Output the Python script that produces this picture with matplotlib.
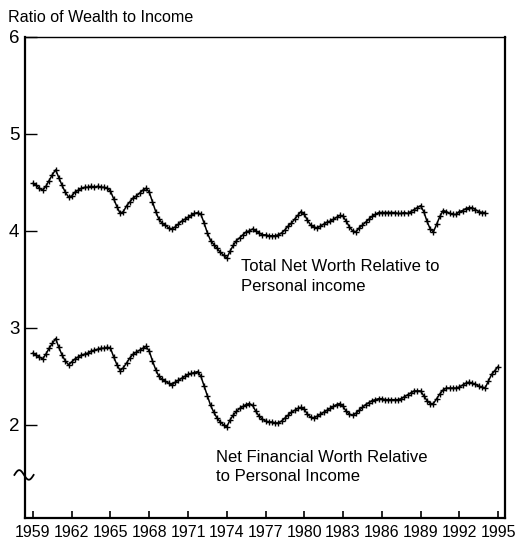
import numpy as np
import matplotlib
matplotlib.use("Agg")
from matplotlib import pyplot as plt

plt.rcParams['font.family'] = ['Liberation Sans', 'DejaVu Sans']

# quarterly ratios, first quarter 1959
total_worth = [
    4.49, 4.47, 4.44, 4.42,  # 1959
    4.46, 4.52, 4.58, 4.63,  # 1960
    4.55, 4.47, 4.40, 4.35,  # 1961
    4.36, 4.40, 4.42, 4.44,  # 1962
    4.45, 4.45, 4.46, 4.45,  # 1963
    4.46, 4.45, 4.45, 4.44,  # 1964
    4.41, 4.33, 4.25, 4.18,  # 1965
    4.20, 4.26, 4.30, 4.34,  # 1966
    4.36, 4.39, 4.42, 4.44,  # 1967
    4.40, 4.30, 4.20, 4.12,  # 1968
    4.08, 4.06, 4.03, 4.02,  # 1969
    4.04, 4.07, 4.10, 4.12,  # 1970
    4.14, 4.16, 4.18, 4.19,  # 1971
    4.17, 4.08, 3.98, 3.90,  # 1972
    3.86, 3.82, 3.78, 3.75,  # 1973
    3.72, 3.79, 3.85, 3.90,  # 1974
    3.93, 3.96, 3.99, 4.00,  # 1975
    4.02, 4.00, 3.98, 3.96,  # 1976
    3.96, 3.95, 3.95, 3.95,  # 1977
    3.96, 3.98, 4.01, 4.05,  # 1978
    4.08, 4.12, 4.16, 4.20,  # 1979
    4.17, 4.11, 4.06, 4.04,  # 1980
    4.03, 4.05, 4.07, 4.09,  # 1981
    4.10, 4.12, 4.14, 4.16,  # 1982
    4.15, 4.10, 4.04, 4.00,  # 1983
    3.99, 4.03, 4.06, 4.09,  # 1984
    4.12, 4.15, 4.17, 4.19,  # 1985
    4.19, 4.19, 4.19, 4.19,  # 1986
    4.19, 4.18, 4.18, 4.19,  # 1987
    4.18, 4.20, 4.22, 4.24,  # 1988
    4.26, 4.20, 4.10, 4.02,  # 1989
    3.99, 4.07, 4.15, 4.21,  # 1990
    4.20, 4.18, 4.17, 4.17,  # 1991
    4.20, 4.21, 4.23, 4.24,  # 1992
    4.24, 4.22, 4.20, 4.19,  # 1993
    4.19,                    # 1994
]

financial_worth = [
    2.74, 2.72, 2.70, 2.68,  # 1959
    2.73, 2.79, 2.84, 2.89,  # 1960
    2.80, 2.72, 2.66, 2.62,  # 1961
    2.65, 2.68, 2.70, 2.72,  # 1962
    2.73, 2.74, 2.76, 2.77,  # 1963
    2.78, 2.79, 2.79, 2.80,  # 1964
    2.79, 2.70, 2.62, 2.56,  # 1965
    2.59, 2.64, 2.69, 2.73,  # 1966
    2.75, 2.77, 2.79, 2.81,  # 1967
    2.76, 2.66, 2.57, 2.50,  # 1968
    2.47, 2.45, 2.43, 2.41,  # 1969
    2.44, 2.46, 2.48, 2.50,  # 1970
    2.52, 2.53, 2.54, 2.55,  # 1971
    2.50, 2.40, 2.30, 2.20,  # 1972
    2.13, 2.07, 2.03, 2.00,  # 1973
    1.98, 2.05, 2.10, 2.14,  # 1974
    2.17, 2.19, 2.21, 2.22,  # 1975
    2.20, 2.14, 2.09, 2.06,  # 1976
    2.04, 2.03, 2.03, 2.02,  # 1977
    2.02, 2.04, 2.07, 2.10,  # 1978
    2.13, 2.15, 2.17, 2.18,  # 1979
    2.16, 2.11, 2.08, 2.07,  # 1980
    2.09, 2.11, 2.13, 2.15,  # 1981
    2.17, 2.19, 2.21, 2.22,  # 1982
    2.19, 2.14, 2.11, 2.10,  # 1983
    2.12, 2.15, 2.18, 2.21,  # 1984
    2.23, 2.25, 2.26, 2.27,  # 1985
    2.27, 2.26, 2.26, 2.26,  # 1986
    2.26, 2.26, 2.27, 2.29,  # 1987
    2.31, 2.33, 2.35, 2.35,  # 1988
    2.35, 2.30, 2.25, 2.22,  # 1989
    2.22, 2.27, 2.32, 2.36,  # 1990
    2.38, 2.38, 2.38, 2.38,  # 1991
    2.39, 2.41, 2.43, 2.44,  # 1992
    2.43, 2.42, 2.40, 2.39,  # 1993
    2.38, 2.45, 2.52, 2.56,  # 1994
    2.60,                    # 1995
]

start_year = 1959
year_ticks = list(range(1959, 1996, 3))
ratio_ticks = [2, 3, 4, 5, 6]

total_label = "Total Net Worth Relative to\nPersonal income"
financial_label = "Net Financial Worth Relative\nto Personal Income"

def quarters(vals):
    return start_year + np.arange(len(vals)) / 4.0

fig = plt.figure(figsize=(5.16, 5.39), dpi=100)
ax = fig.add_axes([0.0484, 0.039, 0.9303, 0.8924])

for vals in (total_worth, financial_worth):
    ax.plot(quarters(vals), vals, color='black', lw=1.1, marker='+',
            ms=5, mew=1.0)

ax.set_xlim(1958.38, 1995.54)
ax.set_ylim(1.04, 6)
ax.set_xticks(year_ticks)
ax.set_xticklabels([str(y) for y in year_ticks], fontsize=11.5)
ax.set_yticks(ratio_ticks)
ax.set_yticklabels([str(r) for r in ratio_ticks], fontsize=13.5)
ax.tick_params(axis='x', direction='in', length=5, width=1.2, pad=5)
ax.tick_params(axis='y', direction='in', length=8.5, width=1.0, pad=4)

for side in ('left', 'bottom', 'right'):
    ax.spines[side].set_linewidth(1.6)
ax.spines['top'].set_linewidth(1.0)

# axis break mark on the left spine
bx = np.linspace(-0.022, 0.018, 30)
by = 0.0895 + 0.010 * np.sin((bx + 0.022) / 0.040 * 2 * np.pi)
ax.plot(bx, by, transform=ax.transAxes, color='black', lw=1.3, clip_on=False)

ax.text(1975.1, 3.71, total_label, fontsize=12, va='top', ha='left',
        linespacing=1.4)
ax.text(1973.2, 1.74, financial_label, fontsize=12, va='top', ha='left',
        linespacing=1.35)

fig.text(8 / 516, 1 - 18 / 539, "Ratio of Wealth to Income", fontsize=11.6,
         va='center', ha='left')

fig.savefig("out.png", dpi=100)
